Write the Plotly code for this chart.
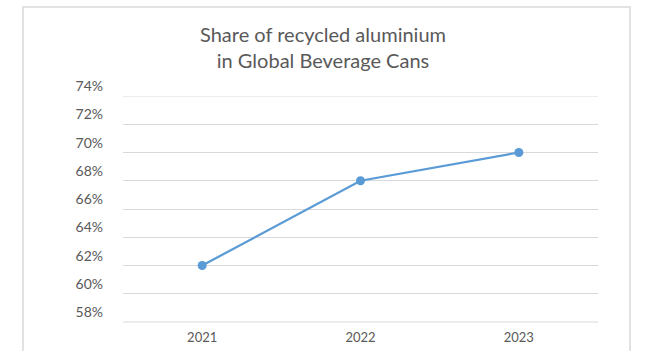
import plotly.graph_objects as go

years = ["2021", "2022", "2023"]
share = [62, 68, 70]
y_ticks = [58, 60, 62, 64, 66, 68, 70, 72, 74]
y_tick_labels = [f"{v}%" for v in y_ticks]

W, H = 645, 351
L, R, T, B = 123, 47, 96, 29
pw, ph = W - L - R, H - T - B

fig = go.Figure()
fig.add_trace(go.Scatter(
    x=years, y=share, mode="lines+markers",
    line=dict(color="#5b9bd5", width=2.25),
    marker=dict(color="#5b9bd5", size=9),
    showlegend=False, hoverinfo="x+y",
))

fig.update_layout(
    width=W, height=H,
    margin=dict(l=L, r=R, t=T, b=B, autoexpand=False),
    paper_bgcolor="white", plot_bgcolor="white",
    font=dict(family="Lato, Open Sans, sans-serif", color="#595959"),
    title=dict(
        text="Share of recycled aluminium<br>in Global Beverage Cans",
        x=323 / W, xanchor="center", y=1 - 42 / H, yanchor="top",
        font=dict(size=20, color="#595959", lineposition="none"),
    ),
    xaxis=dict(
        type="category", range=[-0.5, 2.5], automargin=False,
        showgrid=False, showline=False, zeroline=False,
        ticks="", tickfont=dict(size=13, color="#595959"),
        ticklabelstandoff=6,
    ),
    yaxis=dict(
        range=[58, 74], tickvals=y_ticks, ticktext=y_tick_labels,
        automargin=False,
        showgrid=True, gridcolor="#d9d9d9", gridwidth=1,
        zeroline=False, showline=False, ticks="",
        tickfont=dict(size=14, color="#595959"),
        ticklabelposition="outside top",
        ticklabelstandoff=19,
    ),
    shapes=[
        dict(type="line", xref="paper", yref="paper", x0=0, x1=1, y0=0, y1=0,
             line=dict(color="#d9d9d9", width=1), layer="below"),
        dict(type="line", xref="paper", yref="y", x0=0, x1=1,
             y0=y_ticks[-1], y1=y_ticks[-1],
             line=dict(color="#d9d9d9", width=1), layer="below"),
        dict(type="rect", xref="paper", yref="paper",
             x0=(23 - L) / pw, x1=(630 - L) / pw,
             y0=(322 - 360) / ph, y1=(322 - 7) / ph,
             line=dict(color="#d9d9d9", width=1.5), fillcolor="rgba(0,0,0,0)"),
    ],
)

fig.write_html("out.html")
